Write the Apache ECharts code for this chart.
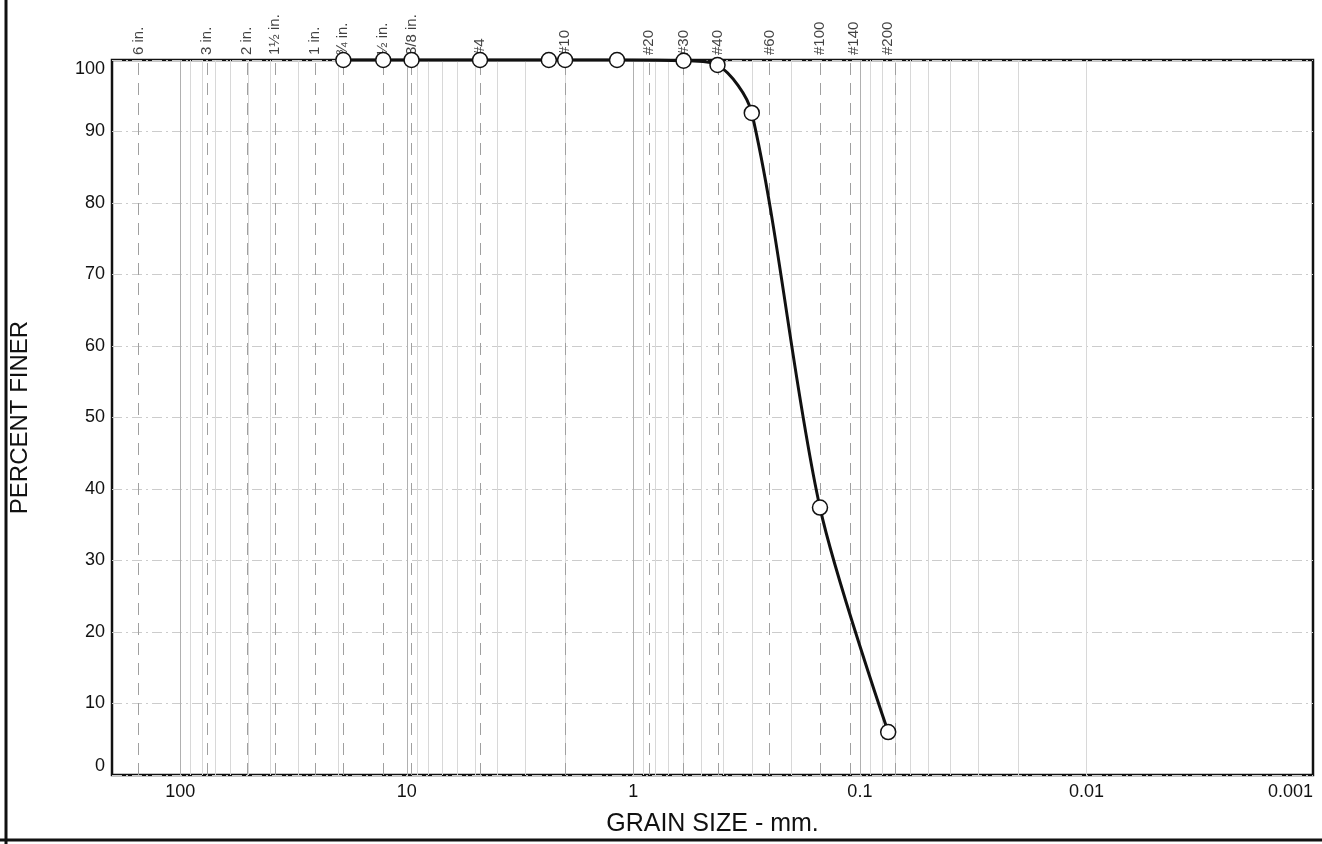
<!DOCTYPE html>
<html lang="en">
<head>
<meta charset="UTF-8">
<title>Grain size distribution</title>
<script src="https://cdn.jsdelivr.net/npm/echarts@6/dist/echarts.min.js"></script>
<style>
  html, body { margin: 0; padding: 0; background: #fff; }
  #main { width: 1322px; height: 844px; }
</style>
</head>
<body>
<div id="main"></div>
<script>
// sieve openings (mm) and their names, printed along the top
var sieveSizes = [152.4, 76.2, 50.8, 38.1, 25.4, 19.05, 12.7, 9.525, 4.75, 2.0, 0.85, 0.6, 0.425, 0.25, 0.15, 0.106, 0.075];
var sieveLabels = ['6 in.', '3 in.', '2 in.', '1½ in.', '1 in.', '¾ in.', '½ in.', '3/8 in.', '#4', '#10', '#20', '#30', '#40', '#60', '#100', '#140', '#200'];

// test results
var grainSize = [19.05, 12.7, 9.525, 4.75, 2.36, 2.0, 1.18, 0.6, 0.425, 0.3, 0.15, 0.075];
var percentFiner = [100, 100, 100, 100, 100, 100, 100, 99.9, 99.3, 92.6, 37.4, 6.0];

// axis labels
var decadeLabels = [100, 10, 1, 0.1, 0.01, 0.001];
var percentTicks = [0, 10, 20, 30, 40, 50, 60, 70, 80, 90, 100];

var font = '"Liberation Sans", Arial, sans-serif';

// log paper grid: 1..9 in every decade
var gridLines = [];
for (var i = 0; i < decadeLabels.length; i++) {
    for (var m = 1; m <= 9; m++) {
        var v = decadeLabels[i] * m;
        if (v > 0.001 && v < 200) gridLines.push({ xAxis: v, lineStyle: { color: m === 1 ? '#b0b0b0' : '#d8d8d8' } });
    }
}

var sieveLines = sieveSizes.map(function (s) { return { xAxis: s }; });

var curve = grainSize.map(function (g, i) { return [g, percentFiner[i]]; });
var sieveMarks = sieveSizes.map(function (s) { return [s, 100]; });

var chart = echarts.init(document.getElementById('main'));

chart.setOption({
    backgroundColor: '#fff',
    animation: false,
    textStyle: { fontFamily: font },
    grid: {
        left: 108, right: 9, top: 60, bottom: 69,
        show: true, borderColor: '#111', borderWidth: 2.5,
        backgroundColor: 'transparent'
    },
    graphic: [
        { type: 'line', shape: { x1: 6, y1: 0, x2: 6, y2: 844 }, style: { stroke: '#111', lineWidth: 3 } },
        { type: 'line', shape: { x1: 0, y1: 840, x2: 1322, y2: 840 }, style: { stroke: '#111', lineWidth: 3 } }
    ],
    xAxis: {
        type: 'log',
        logBase: 10,
        inverse: true,
        min: 0.001,
        max: 200,
        name: 'GRAIN SIZE - mm.',
        nameLocation: 'middle',
        nameGap: 37,
        nameTextStyle: { fontSize: 25, color: '#111', fontFamily: font },
        axisLine: { show: false },
        axisTick: { show: false },
        splitLine: { show: false },
        axisLabel: {
            fontSize: 18,
            color: '#111',
            margin: 8,
            alignMinLabel: 'right',
            formatter: function (v) {
                for (var k = 0; k < decadeLabels.length; k++) {
                    if (Math.abs(v - decadeLabels[k]) < decadeLabels[k] * 1e-6) return String(decadeLabels[k]);
                }
                return '';
            }
        }
    },
    yAxis: {
        type: 'value',
        min: percentTicks[0],
        max: percentTicks[percentTicks.length - 1],
        interval: 10,
        name: 'PERCENT FINER',
        nameLocation: 'middle',
        nameGap: 80,
        nameTextStyle: { fontSize: 24, color: '#111', fontFamily: font },
        axisLine: { show: false },
        axisTick: { show: false },
        axisLabel: {
            fontSize: 18,
            color: '#111',
            margin: 7,
            verticalAlignMaxLabel: 'top',
            verticalAlignMinLabel: 'bottom'
        },
        splitLine: { lineStyle: { color: '#cccccc', width: 1, type: [10, 4, 2, 4] } }
    },
    series: [
        {
            // background log grid
            type: 'line',
            data: [],
            silent: true,
            markLine: {
                silent: true,
                symbol: 'none',
                label: { show: false },
                lineStyle: { width: 1, type: 'solid' },
                data: gridLines
            }
        },
        {
            // dashed sieve lines and their names
            type: 'scatter',
            data: sieveMarks,
            symbolSize: 0,
            silent: true,
            label: {
                show: true,
                position: 'top',
                distance: 5,
                rotate: 90,
                align: 'left',
                verticalAlign: 'middle',
                fontSize: 15,
                color: '#111',
                formatter: function (p) { return sieveLabels[p.dataIndex]; }
            },
            markLine: {
                silent: true,
                symbol: 'none',
                label: { show: false },
                lineStyle: { color: '#a0a0a0', width: 1, type: [12, 8] },
                data: sieveLines
            }
        },
        {
            type: 'line',
            data: curve,
            smooth: 0.3,
            clip: false,
            symbol: 'circle',
            symbolSize: 15,
            lineStyle: { color: '#111', width: 3 },
            itemStyle: { color: '#fff', borderColor: '#111', borderWidth: 1.5 },
            z: 5
        }
    ]
});
</script>
</body>
</html>
